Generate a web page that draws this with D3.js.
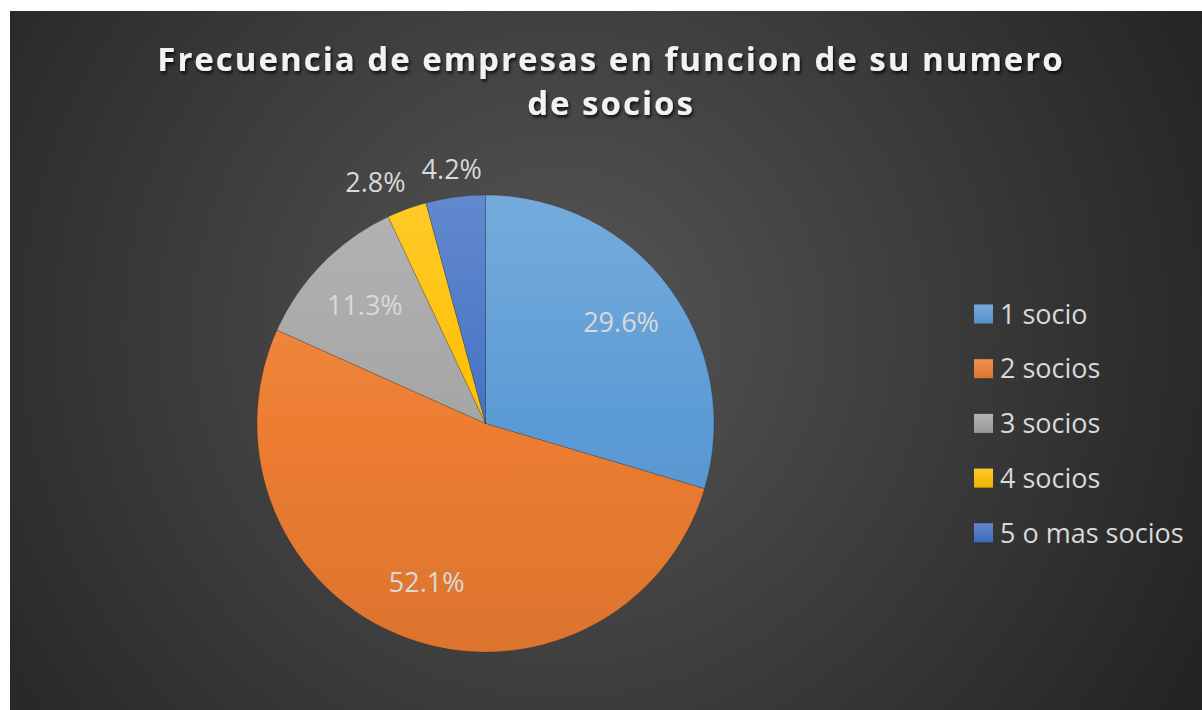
<!DOCTYPE html>
<html lang="es">
<head>
  <meta charset="utf-8">
  <title>Frecuencia de empresas</title>
  <script src="https://cdn.jsdelivr.net/npm/d3@7"></script>
  <style>
    body { margin: 0; background: #fff; }
    text { font-family: "Open Sans", "Noto Sans", sans-serif; }
  </style>
</head>
<body>
  <script>
    // data
    var categories = ["1 socio", "2 socios", "3 socios", "4 socios", "5 o mas socios"];
    var values = [29.6, 52.1, 11.3, 2.8, 4.2];
    var colors = ["#5B9BD5", "#ED7D31", "#A5A5A5", "#FFC000", "#4472C4"];
    var outside = [false, false, false, true, true];
    var title = ["Frecuencia de empresas en funcion de su numero", "de socios"];

    var width = 1202, height = 710;
    var box = { x: 10, y: 11, w: 1192, h: 699 };
    var cx = 485.5, cy = 423.5, r = 228.5;

    var svg = d3.select("body").append("svg")
      .attr("width", width)
      .attr("height", height);

    var defs = svg.append("defs");

    // background: dark radial
    var bg = defs.append("radialGradient")
      .attr("id", "bg")
      .attr("gradientUnits", "userSpaceOnUse")
      .attr("cx", 560).attr("cy", 330).attr("r", 720);
    bg.append("stop").attr("offset", "0").attr("stop-color", "#565656");
    bg.append("stop").attr("offset", "1").attr("stop-color", "#242424");

    var shadow = defs.append("filter").attr("id", "shadow")
      .attr("x", "-10%").attr("y", "-30%").attr("width", "120%").attr("height", "160%");
    shadow.append("feDropShadow")
      .attr("dx", 1.5).attr("dy", 2.5).attr("stdDeviation", 1.8)
      .attr("flood-color", "#000").attr("flood-opacity", 0.75);

    // slice gradients, light at top, darker at bottom
    colors.forEach(function(c, i) {
      var g = defs.append("linearGradient")
        .attr("id", "grad" + i)
        .attr("gradientUnits", "userSpaceOnUse")
        .attr("x1", 0).attr("y1", -r).attr("x2", 0).attr("y2", r);
      g.append("stop").attr("offset", "0").attr("stop-color", d3.interpolateRgb(c, "#fff")(0.16));
      g.append("stop").attr("offset", "0.5").attr("stop-color", c);
      g.append("stop").attr("offset", "1").attr("stop-color", d3.interpolateRgb(c, "#000")(0.07));
      var lg = defs.append("linearGradient")
        .attr("id", "lgrad" + i)
        .attr("x1", 0).attr("y1", 0).attr("x2", 0).attr("y2", 1);
      lg.append("stop").attr("offset", "0").attr("stop-color", d3.interpolateRgb(c, "#fff")(0.16));
      lg.append("stop").attr("offset", "1").attr("stop-color", d3.interpolateRgb(c, "#000")(0.07));
    });

    svg.append("rect")
      .attr("x", box.x).attr("y", box.y)
      .attr("width", box.w).attr("height", box.h)
      .attr("fill", "url(#bg)");

    // title
    svg.append("g")
      .attr("filter", "url(#shadow)")
      .selectAll("text")
      .data(title)
      .enter()
      .append("text")
      .attr("x", 611)
      .attr("y", function(d, i) { return 71 + i * 44; })
      .attr("text-anchor", "middle")
      .attr("fill", "#f2f2f2")
      .attr("font-size", 33)
      .attr("font-weight", "bold")
      .attr("letter-spacing", 2)
      .text(function(d) { return d; });

    // pie
    var pie = d3.pie().sort(null).value(function(d) { return d; });
    var arcs = pie(values);
    var arc = d3.arc().innerRadius(0).outerRadius(r);
    var labelArc = d3.arc().innerRadius(r * 0.74).outerRadius(r * 0.74);
    var outArc = d3.arc().innerRadius(r + 28).outerRadius(r + 28);

    var chart = svg.append("g")
      .attr("transform", "translate(" + cx + "," + cy + ")");

    chart.selectAll("path")
      .data(arcs)
      .enter()
      .append("path")
      .attr("d", arc)
      .attr("fill", function(d, i) { return "url(#grad" + i + ")"; })
      .attr("stroke", "rgba(0,0,0,0.22)")
      .attr("stroke-width", 0.8);

    var labels = chart.selectAll("text.lbl")
      .data(arcs)
      .enter()
      .append("text")
      .attr("class", "lbl")
      .attr("x", function(d, i) { return (outside[i] ? outArc : labelArc).centroid(d)[0]; })
      .attr("y", function(d, i) { return (outside[i] ? outArc : labelArc).centroid(d)[1]; })
      .attr("text-anchor", "middle")
      .attr("dy", "0.36em")
      .attr("fill", "#d9d9d9")
      .attr("font-size", 27)
      .text(function(d) { return d.data.toFixed(1) + "%"; });

    // push overlapping outside labels apart (leftwards, from the last one back)
    var nodes = labels.nodes();
    for (var i = nodes.length - 2; i >= 0; i--) {
      if (!outside[i] || !outside[i + 1]) continue;
      var a = nodes[i].getBBox(), b = nodes[i + 1].getBBox();
      var overlap = (a.x + a.width) - b.x + 16;
      if (overlap > 0) {
        d3.select(nodes[i]).attr("x", +d3.select(nodes[i]).attr("x") - overlap);
      }
    }

    // legend
    var legend = svg.append("g")
      .attr("transform", "translate(974,314)");

    var rows = legend.selectAll("g")
      .data(categories)
      .enter()
      .append("g")
      .attr("transform", function(d, i) { return "translate(0," + (i * 54.7) + ")"; });

    rows.append("rect")
      .attr("x", 0).attr("y", -9.5)
      .attr("width", 19).attr("height", 19)
      .attr("fill", function(d, i) { return "url(#lgrad" + i + ")"; });

    rows.append("text")
      .attr("x", 26)
      .attr("dy", "0.36em")
      .attr("fill", "#d9d9d9")
      .attr("font-size", 27)
      .text(function(d) { return d; });
  </script>
</body>
</html>
